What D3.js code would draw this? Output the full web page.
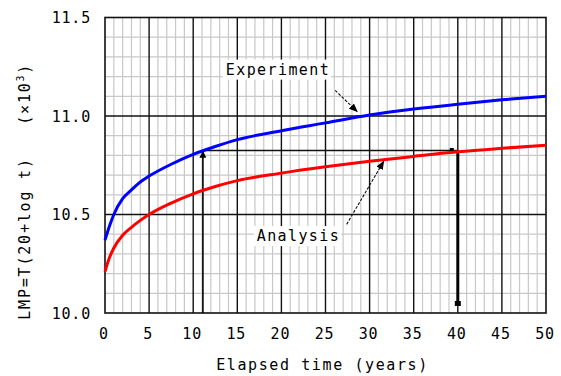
<!DOCTYPE html>
<html>
<head>
<meta charset="utf-8">
<script src="https://cdn.jsdelivr.net/npm/d3@7"></script>
<style>
  body { margin: 0; background: #fff; }
  text { font-family: "DejaVu Sans Mono", monospace; fill: #000; }
</style>
</head>
<body>
<div id="chart"></div>
<script>
// values
const years = [0, 0.5, 1, 2, 3, 4, 5, 7.5, 10, 12.5, 15, 20, 25, 30, 35, 40, 45, 50];
const experiment = [10.37, 10.44, 10.50, 10.58, 10.625, 10.665, 10.695, 10.755, 10.805, 10.845, 10.88, 10.925, 10.965, 11.005, 11.035, 11.06, 11.082, 11.10];
const analysis = [10.21, 10.28, 10.33, 10.395, 10.435, 10.47, 10.50, 10.558, 10.605, 10.642, 10.672, 10.71, 10.742, 10.77, 10.795, 10.818, 10.836, 10.852];
const xTicks = [0, 5, 10, 15, 20, 25, 30, 35, 40, 45, 50];
const yTicks = [10.0, 10.5, 11.0, 11.5];
// reading guide: 11 years of test equals about 40 years of analysis
const guideFrom = 11.1, guideTo = 40, guideLevel = 10.825;

const width = 561, height = 376;
const margin = {top: 17.5, right: 15, bottom: 63, left: 105};

const svg = d3.select('#chart').append('svg')
    .attr('width', width)
    .attr('height', height);

const x = d3.scaleLinear().domain([0, 50]).range([margin.left, width - margin.right]);
const y = d3.scaleLinear().domain([10.0, 11.5]).range([height - margin.bottom, margin.top]);

const defs = svg.append('defs');
defs.append('marker')
    .attr('id', 'head')
    .attr('viewBox', '0 0 10 10')
    .attr('refX', 9).attr('refY', 5)
    .attr('markerWidth', 7).attr('markerHeight', 7)
    .attr('markerUnits', 'userSpaceOnUse')
    .attr('orient', 'auto')
    .append('path').attr('d', 'M0,0L10,5L0,10z').attr('fill', '#000');
defs.append('marker')
    .attr('id', 'thin')
    .attr('viewBox', '0 0 10 10')
    .attr('refX', 9).attr('refY', 5)
    .attr('markerWidth', 9).attr('markerHeight', 9)
    .attr('markerUnits', 'userSpaceOnUse')
    .attr('orient', 'auto')
    .append('path').attr('d', 'M0,1L10,5L0,9z').attr('fill', '#000');

//minor grid
const grid = svg.append('g');
grid.selectAll('.vmin')
    .data(d3.range(1, 50).filter(d => d % 5 !== 0))
    .enter().append('line')
    .attr('x1', d => x(d)).attr('x2', d => x(d))
    .attr('y1', y(10)).attr('y2', y(11.5))
    .attr('stroke', '#c8c8c8').attr('stroke-width', 1.2);
grid.selectAll('.hmin')
    .data(d3.range(1, 15).map(d => 10 + d / 10).filter((d, i) => (i + 1) % 5 !== 0))
    .enter().append('line')
    .attr('x1', x(0)).attr('x2', x(50))
    .attr('y1', d => y(d)).attr('y2', d => y(d))
    .attr('stroke', '#c8c8c8').attr('stroke-width', 1.2);

//major grid
grid.selectAll('.vmaj')
    .data(xTicks.slice(1, -1))
    .enter().append('line')
    .attr('x1', d => x(d)).attr('x2', d => x(d))
    .attr('y1', y(10)).attr('y2', y(11.5))
    .attr('stroke', '#111').attr('stroke-width', 1.4);
grid.selectAll('.hmaj')
    .data(yTicks.slice(1, -1))
    .enter().append('line')
    .attr('x1', x(0)).attr('x2', x(50))
    .attr('y1', d => y(d)).attr('y2', d => y(d))
    .attr('stroke', '#111').attr('stroke-width', 1.4);

svg.append('rect')
    .attr('x', x(0)).attr('y', y(11.5))
    .attr('width', x(50) - x(0)).attr('height', y(10) - y(11.5))
    .attr('fill', 'none').attr('stroke', '#111').attr('stroke-width', 1.6);

//reading guide lines
svg.append('line')
    .attr('x1', x(guideFrom)).attr('x2', x(guideTo))
    .attr('y1', y(guideLevel)).attr('y2', y(guideLevel))
    .attr('stroke', '#111').attr('stroke-width', 1.4);
svg.append('rect')
    .attr('x', x(guideTo) - 8).attr('y', y(guideLevel) - 2.5)
    .attr('width', 4).attr('height', 4).attr('fill', '#000');
svg.append('line')
    .attr('x1', x(guideFrom)).attr('x2', x(guideFrom))
    .attr('y1', y(10)).attr('y2', y(guideLevel) + 1)
    .attr('stroke', '#000').attr('stroke-width', 1.6)
    .attr('marker-end', 'url(#head)');
svg.append('line')
    .attr('x1', x(guideTo)).attr('x2', x(guideTo))
    .attr('y1', y(guideLevel)).attr('y2', y(10) - 7)
    .attr('stroke', '#000').attr('stroke-width', 3);
svg.append('rect')
    .attr('x', x(guideTo) - 3).attr('y', y(10) - 12)
    .attr('width', 6).attr('height', 5).attr('fill', '#000');

//curves
const line = d3.line()
    .x((d, i) => x(years[i]))
    .y(d => y(d))
    .curve(d3.curveMonotoneX);

svg.append('path').datum(analysis)
    .attr('d', line).attr('fill', 'none')
    .attr('stroke', '#ff0000').attr('stroke-width', 3);
svg.append('path').datum(experiment)
    .attr('d', line).attr('fill', 'none')
    .attr('stroke', '#0000ff').attr('stroke-width', 3);

//labels with pointers
function callout(label, tx, ty, from, to) {
    let t = svg.append('text')
        .attr('x', tx).attr('y', ty)
        .attr('font-size', 15).attr('letter-spacing', 1.4)
        .text(label);
    let b = t.node().getBBox();
    svg.insert('rect', 'text')
        .attr('x', b.x - 3).attr('y', b.y - 1)
        .attr('width', b.width + 4).attr('height', b.height + 2)
        .attr('fill', '#fff');
    svg.append('line')
        .attr('x1', from[0]).attr('y1', from[1])
        .attr('x2', to[0]).attr('y2', to[1])
        .attr('stroke', '#111').attr('stroke-width', 1.1)
        .attr('stroke-dasharray', '3,1.5')
        .attr('marker-end', 'url(#thin)');
}
callout('Experiment', x(13.7), y(11.21), [x(26.1), y(11.13)], [x(28.6), y(11.022)]);
callout('Analysis', x(17.2), y(10.365), [x(27.4), y(10.45)], [x(31.6), y(10.77)]);

//tick labels
svg.selectAll('.xlab')
    .data(xTicks)
    .enter().append('text')
    .attr('x', d => x(d) - 1)
    .attr('y', y(10) + 26)
    .attr('text-anchor', 'middle')
    .attr('font-size', 15).attr('letter-spacing', 0.8)
    .text(d => d);
svg.selectAll('.ylab')
    .data(yTicks)
    .enter().append('text')
    .attr('x', x(0) - 14)
    .attr('y', d => y(d) + 5.5)
    .attr('text-anchor', 'end')
    .attr('font-size', 15).attr('letter-spacing', 0.8)
    .text(d => d.toFixed(1));

svg.append('text')
    .attr('x', (x(0) + x(50)) / 2 - 3)
    .attr('y', height - 6)
    .attr('text-anchor', 'middle')
    .attr('font-size', 15).attr('letter-spacing', 1.6)
    .text('Elapsed time (years)');

let yl = svg.append('text')
    .attr('transform', `translate(30,${(y(10) + y(11.5)) / 2 + 26}) rotate(-90)`)
    .attr('text-anchor', 'middle')
    .attr('font-size', 15).attr('letter-spacing', 1.8);
yl.append('tspan').text('LMP=T(20+log t)\u00a0\u00a0\u00a0(\u00d710');
yl.append('tspan').attr('dy', -6).attr('font-size', 10).text('3');
yl.append('tspan').attr('dy', 6).text(')');
</script>
</body>
</html>
